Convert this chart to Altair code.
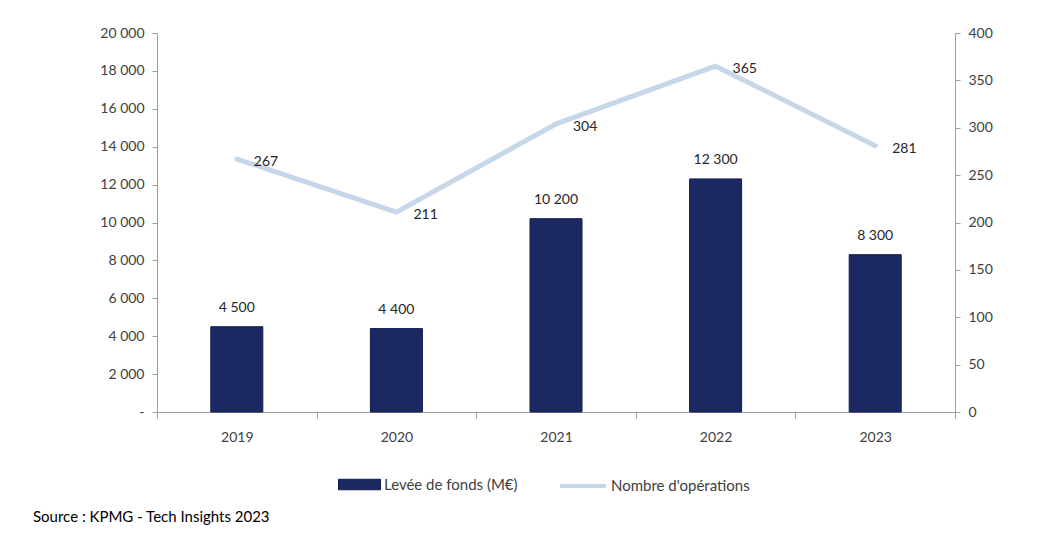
import altair as alt
import pandas as pd

years = ["2019", "2020", "2021", "2022", "2023"]
levee = [4500, 4400, 10200, 12300, 8300]
operations = [267, 211, 304, 365, 281]

BAR_NAME = "Levée  de fonds (M€)"
LINE_NAME = "Nombre d'opérations"
SOURCE = "Source : KPMG - Tech Insights 2023"

df = pd.DataFrame({"annee": years, "levee": levee, "ops": operations})
df["serie_bar"] = BAR_NAME
df["serie_line"] = LINE_NAME

FONT = "Lato"
LABEL_COLOR = "#404040"
AXIS_COLOR = "#a0a0a0"

x = alt.X("annee:N", title=None, sort=years,
          scale=alt.Scale(paddingInner=0, paddingOuter=0),
          axis=alt.Axis(labelAngle=0, tickBand="extent", tickSize=6, domainColor=AXIS_COLOR,
                        tickColor=AXIS_COLOR, labelFont=FONT, labelFontSize=14,
                        labelColor=LABEL_COLOR, labelPadding=12))

base = alt.Chart(df)

y_left = alt.Y("levee:Q", title=None,
               scale=alt.Scale(domain=[0, 20000]),
               axis=alt.Axis(values=list(range(0, 20001, 2000)), grid=False, tickSize=5,
                             domainColor=AXIS_COLOR, tickColor=AXIS_COLOR,
                             labelFont=FONT, labelFontSize=14, labelColor=LABEL_COLOR,
                             labelPadding=8,
                             labelExpr="datum.value == 0 ? '-' : replace(format(datum.value, ','), ',', ' ')"))

y_right = alt.Y("ops:Q", title=None,
                scale=alt.Scale(domain=[0, 400]),
                axis=alt.Axis(orient="right", values=list(range(0, 401, 50)), grid=False, tickSize=5,
                              domainColor=AXIS_COLOR, tickColor=AXIS_COLOR,
                              labelFont=FONT, labelFontSize=14, labelColor=LABEL_COLOR,
                              labelPadding=8))

bars = base.mark_bar(size=52, color="#1b2862", stroke="#0f1c4f", strokeWidth=1).encode(
    x=x,
    y=y_left,
    fill=alt.Fill("serie_bar:N", title=None,
                  scale=alt.Scale(domain=[BAR_NAME], range=["#1b2862"]),
                  legend=alt.Legend(orient="none", legendX=181, legendY=430, padding=0,
                                    symbolType="M-1,-0.25H1V0.25H-1Z", symbolSize=1764,
                                    symbolStrokeColor="#0f1c4f", symbolStrokeWidth=1,
                                    labelFont=FONT, labelFontSize=15, labelColor=LABEL_COLOR,
                                    labelOffset=3)),
)

bar_labels = base.mark_text(font=FONT, fontSize=14, color="#262626", baseline="bottom", dy=-12).transform_calculate(
    lbl="replace(format(datum.levee, ','), ',', ' ')"
).encode(
    x=x,
    y=y_left,
    text="lbl:N",
)

left = alt.layer(bars, bar_labels)

line = base.mark_line(strokeWidth=5, strokeCap="round", strokeJoin="round").encode(
    x=x,
    y=y_right,
    stroke=alt.Stroke("serie_line:N", title=None,
                      scale=alt.Scale(domain=[LINE_NAME], range=["#c6d7ea"]),
                      legend=alt.Legend(orient="none", legendX=401, legendY=428, padding=0,
                                        symbolType="stroke", symbolSize=2116,
                                        symbolStrokeWidth=4,
                                        labelFont=FONT, labelFontSize=15, labelColor=LABEL_COLOR,
                                        labelOffset=3)),
)

line_labels = base.mark_text(font=FONT, fontSize=14, color="#262626", align="left",
                             baseline="middle", dx=17, dy=3).encode(
    x=x,
    y=y_right,
    text="ops:Q",
)

right = alt.layer(line, line_labels)

chart = alt.layer(left, right).resolve_scale(y="independent").properties(
    width=798,
    height=379,
    padding={"left": 149, "top": 25, "right": 80, "bottom": 120},
    autosize=alt.AutoSizeParams(type="none"),
    title=alt.TitleParams(SOURCE, orient="bottom", anchor="start", frame="group",
                          dx=-124, dy=12, font=FONT, fontSize=15, fontWeight="normal",
                          color="#000000"),
).configure_view(stroke=None)

chart.save("out.html", embed_options={"renderer": "svg", "actions": False})
